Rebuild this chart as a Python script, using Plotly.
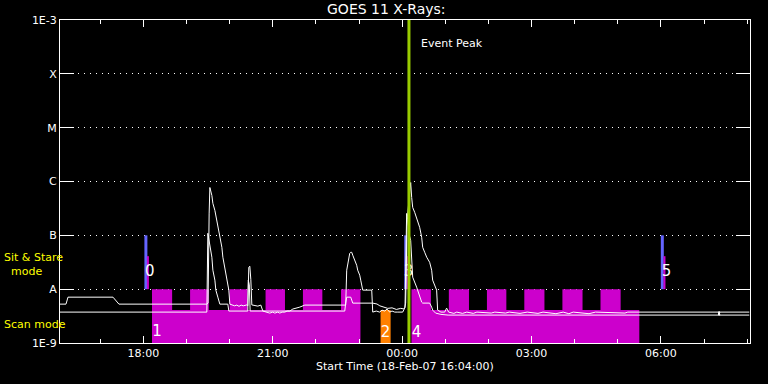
import numpy as np
import pandas as pd
import plotly.graph_objects as go

START = pd.Timestamp("2007-02-18 16:04:00")
SPAN_MIN = 960  # 16 hours shown

# GOES 11 X-ray flux (W/m^2) vs minutes after start time
long_min = [0, 8.3, 10, 11.1, 73.7, 77.8, 82, 204.3, 206, 207.5, 208.5, 211.3, 212.7, 215.5, 218.2,
            219.6, 222.4, 225.2, 226.6, 229.4, 232.1, 233.5, 234.9, 236.3, 240, 243, 246, 249, 252,
            255, 259.9, 261.3, 262.7, 264.1, 265.5, 266.9, 275.2, 279.4, 282.2, 286.3, 291.9, 296,
            298.9, 303, 305.8, 309, 312.8, 316, 319.7, 323.9, 329.4, 333.6, 340.6, 396.2, 397.5,
            398.9, 401.7, 403.1, 404.5, 405.9, 407.3, 410, 412.8, 414.2, 417, 418.4, 419.8, 421.2,
            433.7, 435.1, 440, 444.8, 448, 451.8, 455, 458.7, 462, 465.7, 470, 476.8, 479.6, 480.9,
            483, 486.5, 487.9, 489.3, 490.7, 493.5, 496.2, 497.6, 500.4, 503.2, 504.6, 507.4, 510.2,
            514.3, 517.1, 518.5, 521.3, 524, 525.4, 530, 535.2, 537.9, 540.7, 548, 552, 560, 566,
            575, 580, 600, 605, 620, 625, 640, 650, 665, 672, 690, 700, 708, 714, 736, 745, 786,
            790, 916, 917, 918, 959]
long_flux = [5.27e-9, 5.27e-9, 6.3e-9, 7.1e-9, 7.1e-9, 6.0e-9, 5.27e-9, 5.27e-9, 5.5e-9, 2.5e-7,
             7.74e-7, 5.5e-7, 3.92e-7, 2.9e-7, 1.9e-7, 1.35e-7, 9.2e-8, 6.0e-8, 3.92e-8, 2.45e-8,
             1.6e-8, 1.09e-8, 9.6e-9, 5.27e-9, 5.1e-9, 4.9e-9, 5.06e-9, 4.8e-9, 5.06e-9, 4.9e-9,
             5.1e-9, 4.9e-9, 2.55e-8, 2.67e-8, 1.5e-8, 5.1e-9, 4.84e-9, 5.06e-9, 3.92e-9, 3.75e-9,
             3.59e-9, 3.75e-9, 3.59e-9, 3.75e-9, 3.59e-9, 3.75e-9, 3.75e-9, 3.92e-9, 3.92e-9,
             4.27e-9, 4.45e-9, 4.64e-9, 5.06e-9, 5.06e-9, 5.06e-9, 2.25e-8, 4.27e-8, 4.64e-8,
             4.84e-8, 4.84e-8, 4.27e-8, 3.44e-8, 2.78e-8, 2.25e-8, 1.82e-8, 1.47e-8, 1.05e-8,
             9.6e-9, 9.6e-9, 3.75e-9, 3.92e-9, 3.75e-9, 4.08e-9, 3.92e-9, 4.27e-9, 3.75e-9,
             3.92e-9, 3.75e-9, 3.75e-9, 3.75e-9, 4.45e-9, 5.5e-9, 2.0e-7, 8.0e-7, 9.57e-7,
             5.06e-7, 3.3e-7, 2.67e-7, 2.07e-7, 1.67e-7, 1.41e-7, 9.2e-8, 6.0e-8, 4.84e-8, 3.92e-8,
             3.16e-8, 2.25e-8, 1.47e-8, 1.19e-8, 9.6e-9, 4.08e-9, 3.75e-9, 3.75e-9, 4.45e-9,
             3.75e-9, 3.55e-9, 3.75e-9, 3.55e-9, 3.75e-9, 3.55e-9, 3.75e-9, 3.6e-9, 3.75e-9,
             3.6e-9, 3.75e-9, 3.55e-9, 3.75e-9, 3.55e-9, 3.75e-9, 3.5e-9, 3.75e-9, 3.5e-9,
             3.75e-9, 3.5e-9, 3.75e-9, 3.6e-9, 3.75e-9, 3.75e-9, 3.2e-9, 3.75e-9, 3.75e-9]

short_min = [0, 204.3, 205.7, 207.1, 208.5, 209.9, 211.3, 212.7, 215.5, 216.8, 218.2, 219.6, 222.4,
             233.5, 234.9, 261.3, 262, 263.4, 264.5, 396.2, 397.5, 398.9, 404.5, 405.9, 407.3,
             435.1, 441, 445, 451, 456, 462, 468, 474, 478, 480, 481.5, 482.3, 483.7, 485.1, 486.5,
             487.9, 489.3, 490.7, 496.2, 497.6, 500.4, 503.2, 504.6, 514.3, 517.1, 518.5, 522.6,
             530, 540, 916, 917, 918, 959]
short_flux = [3.75e-9, 3.75e-9, 1.09e-7, 8.5e-8, 7.1e-8, 6.0e-8, 3.92e-8, 2.25e-8, 1.47e-8, 9.6e-9,
              7.7e-9, 7.1e-9, 5.27e-9, 5.27e-9, 3.92e-9, 3.92e-9, 1.47e-8, 1.2e-8, 3.92e-9,
              3.92e-9, 5.5e-9, 7.1e-9, 7.1e-9, 6.3e-9, 5.5e-9, 5.5e-9, 5.3e-9, 4.9e-9, 4.6e-9,
              4.4e-9, 4.5e-9, 4.2e-9, 4.4e-9, 4.3e-9, 4.6e-9, 5e-8, 2.55e-7, 2.0e-7, 1.3e-7,
              9.5e-8, 8.07e-8, 2.55e-8, 1.67e-8, 1.09e-8, 9.6e-9, 7.1e-9, 5.74e-9, 5.51e-9,
              5.51e-9, 4.64e-9, 4.08e-9, 3.59e-9, 3.4e-9, 3.3e-9, 3.3e-9, 3.9e-9, 3.3e-9, 3.3e-9]

# Observing-mode blocks (minutes after start); levels per interval
mode1_edges = [128, 156, 181, 207, 236, 261, 286, 313, 338, 365, 391, 418]
mode1_kind = ["H", "L", "H", "L", "H", "L", "H", "L", "H", "L", "H"]
mode2_edges = [489, 516, 541, 569, 594, 621, 646, 674, 699, 727, 752, 780, 806]
mode2_kind = ["H", "L", "H", "L", "H", "L", "H", "L", "H", "L", "H", "L"]
orange_edges = [446, 460]
orange_kind = ["L"]
LEVEL = {"H": 1e-8, "L": 4.1e-9}
FLOOR = 1e-9

# Sit & stare markers
stare_blue_min = [119.5, 481, 838]
stare_mag_min = [122.3, 483.4, 841]
blue_range = (1e-8, 1e-7)
mag_range = (1e-8, 4.1e-8)

# Numbered labels
lab_text = ["0", "1", "2", "3", "4", "5"]
lab_min = [125, 135, 453, 485, 496, 844]
lab_flux = [2.07e-8, 1.6e-9, 1.55e-9, 2.07e-8, 1.55e-9, 2.07e-8]

event_peak_min = 485.5

ytick_vals = [1e-9, 1e-8, 1e-7, 1e-6, 1e-5, 1e-4, 1e-3]
ytick_text = ["1E-9", "A", "B", "C", "M", "X", "1E-3"]

FONT = "DejaVu Sans"
MAGENTA = "#cc00cc"
BLUE = "#6464ff"
ORANGE = "#ff8000"
GREEN = "#99cc00"


def t(m):
    return START + pd.to_timedelta(np.asarray(m, dtype=float), unit="min")


def step_poly(edges, kinds):
    xs, ys = [edges[0]], [FLOOR]
    for i, k in enumerate(kinds):
        xs += [edges[i], edges[i + 1]]
        ys += [LEVEL[k], LEVEL[k]]
    xs.append(edges[-1])
    ys.append(FLOOR)
    xs.append(edges[0])
    ys.append(FLOOR)
    return t(xs), ys


fig = go.Figure()

for edges, kinds, col in [(mode1_edges, mode1_kind, MAGENTA),
                          (mode2_edges, mode2_kind, MAGENTA),
                          (orange_edges, orange_kind, ORANGE)]:
    px_, py_ = step_poly(edges, kinds)
    fig.add_trace(go.Scatter(x=px_, y=py_, mode="lines", fill="toself", fillcolor=col,
                             line=dict(width=0, color=col), hoverinfo="skip"))


def vbars(mins, rng):
    xs, ys = [], []
    for m in mins:
        tm = START + pd.Timedelta(minutes=m)
        xs += [tm, tm, None]
        ys += [rng[0], rng[1], None]
    return xs, ys


bx, by = vbars(stare_blue_min, blue_range)
fig.add_trace(go.Scatter(x=bx, y=by, mode="lines", line=dict(color=BLUE, width=3)))
mx, my = vbars(stare_mag_min, mag_range)
fig.add_trace(go.Scatter(x=mx, y=my, mode="lines", line=dict(color=MAGENTA, width=2)))

fig.add_trace(go.Scatter(x=t(long_min), y=long_flux, mode="lines",
                         line=dict(color="white", width=1)))
fig.add_trace(go.Scatter(x=t(short_min), y=short_flux, mode="lines",
                         line=dict(color="white", width=1)))

fig.add_trace(go.Scatter(x=t(lab_min), y=lab_flux, mode="text", text=lab_text,
                         textfont=dict(color="white", size=15, family=FONT)))

ev = START + pd.Timedelta(minutes=event_peak_min)
fig.add_shape(type="line", x0=ev, x1=ev, xref="x", yref="paper", y0=0, y1=1,
              line=dict(color=GREEN, width=3), layer="above")

fig.add_annotation(x=START + pd.Timedelta(minutes=499), y=np.log10(3.6e-4), xref="x", yref="y",
                   text="Event Peak", showarrow=False, xanchor="left", yanchor="middle",
                   font=dict(color="white", size=11, family=FONT))

fig.add_annotation(x=-0.084, y=0.242, xref="paper", yref="paper",
                   text="Sit & Stare<br>&nbsp;&nbsp;mode", showarrow=False,
                   xanchor="left", yanchor="middle", align="left",
                   font=dict(color="#ffff00", size=11, family=FONT))
fig.add_annotation(x=-0.084, y=0.0588, xref="paper", yref="paper", text="Scan mode",
                   showarrow=False, xanchor="left", yanchor="middle",
                   font=dict(color="#ffff00", size=11, family=FONT))

fig.add_annotation(x=0.5, y=-0.0743, xref="paper", yref="paper",
                   text="Start Time (18-Feb-07 16:04:00)", showarrow=False,
                   xanchor="center", yanchor="middle",
                   font=dict(color="white", size=11, family=FONT))

fig.update_layout(
    width=768, height=384,
    margin=dict(l=60, r=18, t=20, b=41),
    paper_bgcolor="black", plot_bgcolor="black",
    showlegend=False,
    title=dict(text="GOES 11 X-Rays:", x=0.503, xanchor="center", y=1 - 9.5 / 384,
               yanchor="middle", font=dict(color="white", size=14, family=FONT)),
    xaxis=dict(
        type="date",
        range=[START, START + pd.Timedelta(minutes=SPAN_MIN)],
        tick0="2007-02-18 18:00:00", dtick=3 * 3600 * 1000, tickformat="%H:%M",
        ticks="inside", ticklen=7, tickwidth=1, tickcolor="white",
        minor=dict(dtick=3600 * 1000, ticks="inside", ticklen=4, tickwidth=1,
                   tickcolor="white", showgrid=False),
        showline=True, linecolor="white", linewidth=1, mirror="allticks",
        showgrid=False, zeroline=False,
        tickfont=dict(color="white", size=11, family=FONT),
    ),
    yaxis=dict(
        type="log", range=[-9, -3],
        tickvals=ytick_vals, ticktext=ytick_text,
        ticks="inside", ticklen=14, tickwidth=1, tickcolor="white",
        showline=True, linecolor="white", linewidth=1, mirror="allticks",
        showgrid=True, gridcolor="white", gridwidth=1, griddash="1px,5px",
        zeroline=False,
        tickfont=dict(color="#ffffff", size=11, family=FONT),
    ),
)

fig.write_html("out.html", config={"displayModeBar": False},
               post_script="document.body.style.margin='0px';")
